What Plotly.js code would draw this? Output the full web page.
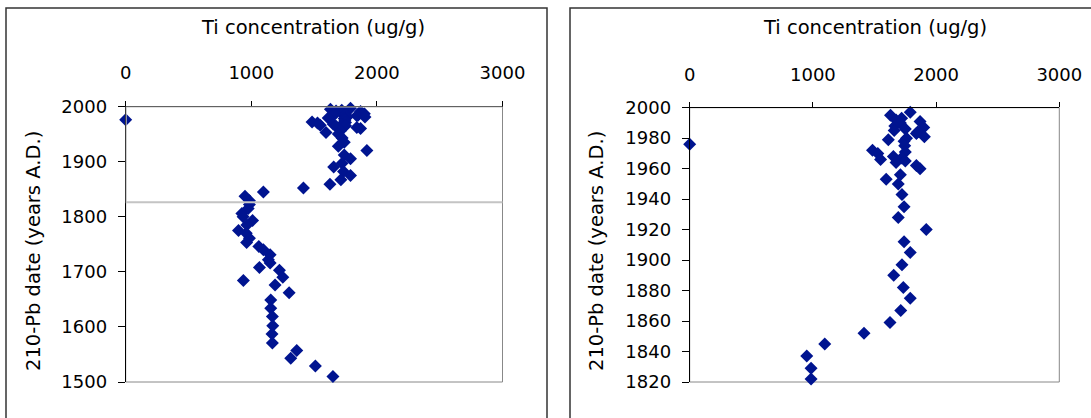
<!DOCTYPE html>
<html>
<head>
<meta charset="utf-8">
<script src="https://cdn.plot.ly/plotly-3.0.1.min.js"></script>
<style>html,body{margin:0;padding:0;background:#fff;}#chart{width:1091px;height:418px;}</style>
</head>
<body>
<div id="chart"></div>
<script>
// Sample dates (210-Pb, years A.D.)
const years = [1997,1995,1993,1992,1991,1990,1988,1987,1986,1985,
  1984,1983,1981,1980,1979,1978,1976,1975,1972,1971,
  1970,1968,1967,1966,1965,1964,1962,1960,1956,1953,
  1950,1943,1935,1928,1920,1912,1905,1897,1890,1882,
  1875,1867,1859,1852,1845,1837,1829,1822,1815,1806,
  1800,1793,1785,1775,1770,1761,1753,1746,1740,1731,
  1722,1716,1708,1703,1690,1684,1676,1662,1649,1634,
  1619,1602,1587,1571,1557,1543,1529,1510];
// Ti concentration (ug/g)
const ti = [1790,1630,1720,1675,1870,1710,1665,1900,1750,1660,
  1850,1840,1905,1760,1612,1740,0,1745,1484,1750,
  1527,1653,1720,1549,1750,1675,1840,1870,1710,1595,
  1693,1723,1740,1693,1920,1740,1790,1723,1656,1734,
  1790,1713,1626,1415,1096,950,985,985,975,925,
  935,1010,965,898,960,985,963,1060,1096,1150,
  1136,1150,1065,1224,1251,937,1189,1301,1155,1155,
  1168,1171,1165,1168,1362,1314,1510,1650];
const xTickVals = [0,1000,2000,3000];
const yTicksFull = [1500,1600,1700,1800,1900,2000];
const yTicksZoom = [1820,1840,1860,1880,1900,1920,1940,1960,1980,2000];
const zoomStart = 1826;   // lower limit of the highlighted (enlarged) interval
const xTitle = 'Ti concentration (ug/g)';
const yTitle = '210-Pb date (years A.D.)';

const W = 1091, H = 418;
const px = v => v / W;
const py = v => 1 - v / H;

const zoomYears = [], zoomTi = [];
years.forEach((y, i) => { if (y >= yTicksZoom[0]) { zoomYears.push(y); zoomTi.push(ti[i]); } });

const FONT = 'DejaVu Sans, Arial, sans-serif';
const markerStyle = {symbol: 'diamond', size: 10, color: '#001490', line: {width: 0}};

const traces = [
  {x: ti, y: years, type: 'scatter', mode: 'markers', marker: markerStyle, xaxis: 'x', yaxis: 'y', cliponaxis: false, hoverinfo: 'x+y'},
  {x: zoomTi, y: zoomYears, type: 'scatter', mode: 'markers', marker: markerStyle, xaxis: 'x2', yaxis: 'y2', cliponaxis: false, hoverinfo: 'x+y'}
];

const xCommon = {
  side: 'top', range: [0, 3000], tickvals: xTickVals, ticks: 'outside', ticklen: 5, tickcolor: '#000',
  ticklabelstandoff: 14,
  showline: true, linecolor: '#000', linewidth: 1, showgrid: false, zeroline: false,
  tickfont: {family: FONT, size: 18, color: '#000'}, fixedrange: true
};
const yCommon = {
  ticks: 'outside', ticklen: 7, tickcolor: '#000', showline: true, linecolor: '#000', linewidth: 1,
  ticklabelstandoff: 7,
  showgrid: false, zeroline: false, tickfont: {family: FONT, size: 18, color: '#000'}, fixedrange: true
};

const layout = {
  width: W, height: H, margin: {l: 0, r: 0, t: 0, b: 0},
  paper_bgcolor: '#fff', plot_bgcolor: '#fff', showlegend: false,
  xaxis: Object.assign({}, xCommon, {domain: [px(125.7), px(502.5)], anchor: 'y'}),
  yaxis: Object.assign({}, yCommon, {domain: [py(382), py(106.5)], range: [1500, 2000], tickvals: yTicksFull, anchor: 'x'}),
  xaxis2: Object.assign({}, xCommon, {domain: [px(689.7), px(1059.3)], anchor: 'y2'}),
  yaxis2: Object.assign({}, yCommon, {domain: [py(382), py(107.7)], range: [1820, 2000], tickvals: yTicksZoom, anchor: 'x2'}),
  shapes: [
    // panel frames
    {type: 'rect', xref: 'paper', yref: 'paper', x0: px(6), x1: px(547), y0: -0.2, y1: py(8), line: {color: '#333', width: 1.5}, layer: 'below'},
    {type: 'rect', xref: 'paper', yref: 'paper', x0: px(570), x1: 1.2, y0: -0.2, y1: py(8), line: {color: '#333', width: 1.5}, layer: 'below'},
    // plot-area outlines (grey right and bottom edges)
    {type: 'rect', xref: 'x domain', yref: 'y domain', x0: 0, x1: 1, y0: 0, y1: 1, line: {color: '#888', width: 1}, layer: 'below'},
    {type: 'rect', xref: 'x2 domain', yref: 'y2 domain', x0: 0, x1: 1, y0: 0, y1: 1, line: {color: '#888', width: 1}, layer: 'below'},
    // highlight box of the enlarged interval
    {type: 'rect', xref: 'x', yref: 'y', x0: 0, x1: 3020, y0: zoomStart, y1: 2000, line: {color: '#c4c4c4', width: 2}, layer: 'above'}
  ],
  annotations: [
    {text: xTitle, xref: 'paper', yref: 'paper', x: px(313), y: py(27), showarrow: false, xanchor: 'center', yanchor: 'middle', font: {family: FONT, size: 19.5, color: '#000'}},
    {text: xTitle, xref: 'paper', yref: 'paper', x: px(875), y: py(27), showarrow: false, xanchor: 'center', yanchor: 'middle', font: {family: FONT, size: 19.5, color: '#000'}},
    {text: yTitle, xref: 'paper', yref: 'paper', x: px(33), y: py(251), showarrow: false, textangle: -90, xanchor: 'center', yanchor: 'middle', font: {family: FONT, size: 19.5, color: '#000'}},
    {text: yTitle, xref: 'paper', yref: 'paper', x: px(596), y: py(251), showarrow: false, textangle: -90, xanchor: 'center', yanchor: 'middle', font: {family: FONT, size: 19.5, color: '#000'}}
  ]
};

Plotly.newPlot('chart', traces, layout, {displayModeBar: false, staticPlot: true});
</script>
</body>
</html>
